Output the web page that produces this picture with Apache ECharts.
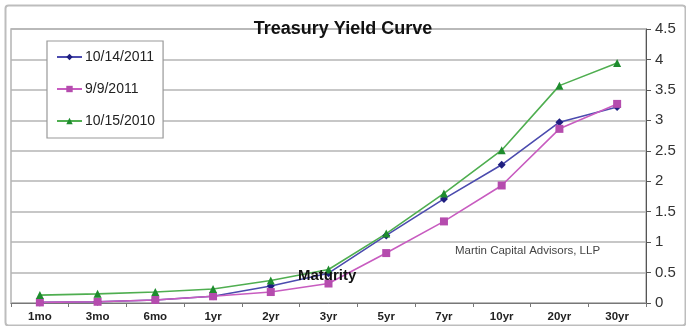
<!DOCTYPE html>
<html>
<head>
<meta charset="utf-8">
<script src="https://cdn.jsdelivr.net/npm/echarts@6/dist/echarts.min.js"></script>
<style>
html,body{margin:0;padding:0;background:#fff;}
#chart{width:686px;height:326px;}
</style>
</head>
<body>
<div id="chart"></div>
<script>
var categories = ['1mo','3mo','6mo','1yr','2yr','3yr','5yr','7yr','10yr','20yr','30yr'];
var seriesNames = ['10/14/2011','9/9/2011','10/15/2010'];
var y20111014 = [0.01,0.02,0.05,0.11,0.28,0.49,1.11,1.71,2.27,2.97,3.22];
var y20110909 = [0.01,0.02,0.05,0.11,0.18,0.32,0.82,1.34,1.93,2.86,3.27];
var y20101015 = [0.13,0.15,0.18,0.23,0.37,0.55,1.14,1.80,2.51,3.57,3.94];
var yTicks = {min:0, max:4.5, interval:0.5};

var FONT = '"Liberation Sans", Arial, sans-serif';
var chart = echarts.init(document.getElementById('chart'), null, {renderer:'canvas'});
chart.setOption({
  animation:false,
  backgroundColor:'#fff',
  title:{
    text:'Treasury Yield Curve',
    left:'center', top:15,
    textStyle:{fontFamily:FONT, fontSize:18, fontWeight:'bold', color:'#111'}
  },
  grid:{left:11, right:40, top:29, bottom:23, show:true, borderColor:'#b4b4b4', borderWidth:1.5, backgroundColor:'transparent'},
  legend:{
    orient:'vertical', left:47, top:41,
    backgroundColor:'#fff', borderColor:'#999', borderWidth:1.2,
    padding:[9,8,10,9], itemGap:18, itemWidth:25, itemHeight:8,
    textStyle:{fontFamily:FONT, fontSize:14, color:'#222', padding:[0,0,0,-2]},
    data:seriesNames
  },
  xAxis:{
    type:'category', data:categories, boundaryGap:true,
    axisLine:{lineStyle:{color:'#777', width:1}},
    axisTick:{show:true, interval:0, length:4, lineStyle:{color:'#777'}},
    axisLabel:{interval:0, margin:8, fontFamily:FONT, fontSize:11.5, fontWeight:'bold', color:'#222'},
    splitLine:{show:false}
  },
  yAxis:{
    type:'value', position:'right', min:yTicks.min, max:yTicks.max, interval:yTicks.interval,
    axisLine:{show:true, lineStyle:{color:'#555', width:1}},
    axisTick:{show:true, length:5, lineStyle:{color:'#555'}},
    axisLabel:{margin:9, fontFamily:FONT, fontSize:15, color:'#333'},
    splitLine:{show:true, lineStyle:{color:'#b4b4b4', width:1.5}}
  },
  graphic:[
    {type:'rect', left:3, top:3, z:-10, silent:true,
     shape:{width:680, height:320, r:3},
     style:{fill:'none', stroke:'#bdbdbd', lineWidth:2}},
    {type:'text', left:298, top:268, z:100,
     style:{text:'Maturity', font:'bold 15px ' + FONT, fill:'#111'}},
    {type:'text', left:455, top:245, z:100,
     style:{text:'Martin Capital Advisors, LLP', font:'11.5px ' + FONT, fill:'#444'}}
  ],
  series:[
    {name:seriesNames[0], type:'line', data:y20111014, symbol:'diamond', symbolSize:8,
     lineStyle:{color:'#4b4bae', width:1.6}, itemStyle:{color:'#1f1f80'}},
    {name:seriesNames[1], type:'line', data:y20110909, symbol:'rect', symbolSize:8,
     lineStyle:{color:'#c85cc0', width:1.6}, itemStyle:{color:'#b54cae'}},
    {name:seriesNames[2], type:'line', data:y20101015, symbol:'triangle', symbolSize:8,
     lineStyle:{color:'#4fae50', width:1.6}, itemStyle:{color:'#1e8c2e'}}
  ]
});
</script>
</body>
</html>
